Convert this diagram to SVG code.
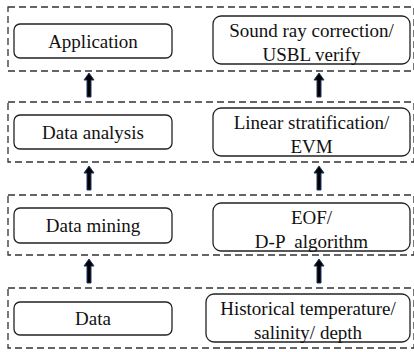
<svg xmlns="http://www.w3.org/2000/svg" width="414" height="352" viewBox="0 0 414 352">
<style>
.layer{fill:none;stroke:#333;stroke-width:1.3;stroke-dasharray:7 4}
.box{fill:#fff;stroke:#222;stroke-width:1.3}
text{font-family:"Liberation Serif",Tinos,"Times New Roman",Times,"Noto Serif","DejaVu Serif",serif;font-size:19px;fill:#111;text-anchor:middle}
.arr{fill:#000;stroke:#1F3864;stroke-width:1}
</style>
<defs>
<path id="up" class="arr" d="M0,0 L5,7 L2,7 L2,24 L-2,24 L-2,7 L-5,7 Z"/>
</defs>
<rect width="414" height="352" fill="#fff"/>
<g id="layers">
<rect class="layer" x="8" y="7" width="406" height="64"/>
<rect class="layer" x="8" y="102" width="406" height="60"/>
<rect class="layer" x="8" y="195" width="406" height="60"/>
<rect class="layer" x="8" y="288" width="406" height="60"/>
</g>
<g id="connectors">
<use href="#up" x="89" y="73"/>
<use href="#up" x="319" y="73"/>
<use href="#up" x="89" y="166"/>
<use href="#up" x="319" y="166"/>
<use href="#up" x="89" y="259"/>
<use href="#up" x="319" y="259"/>
</g>
<g id="application">
<rect class="box" x="14" y="24" width="158" height="34" rx="6"/>
<text x="93" y="47.5">Application</text>
</g>
<g id="sound-ray">
<rect class="box" x="213" y="16" width="197" height="48" rx="8"/>
<text x="311.5" y="37">Sound ray correction/</text>
<text x="311.5" y="61">USBL verify</text>
</g>
<g id="data-analysis">
<rect class="box" x="14" y="115" width="158" height="34" rx="6"/>
<text x="93" y="138.5">Data analysis</text>
</g>
<g id="linear">
<rect class="box" x="213" y="108" width="197" height="48" rx="8"/>
<text x="311.5" y="129">Linear stratification/</text>
<text x="311.5" y="153">EVM</text>
</g>
<g id="data-mining">
<rect class="box" x="14" y="208" width="158" height="35" rx="6"/>
<text x="93" y="232">Data mining</text>
</g>
<g id="eof">
<rect class="box" x="213" y="203" width="197" height="48" rx="8"/>
<text x="311.5" y="224">EOF/</text>
<text x="311.5" y="248" xml:space="preserve">D-P  algorithm</text>
</g>
<g id="data">
<rect class="box" x="14" y="302" width="158" height="33" rx="6"/>
<text x="93" y="325">Data</text>
</g>
<g id="historical">
<rect class="box" x="206" y="294" width="204" height="48" rx="8"/>
<text x="308" y="315">Historical temperature/</text>
<text x="308" y="339">salinity/ depth</text>
</g>
</svg>
